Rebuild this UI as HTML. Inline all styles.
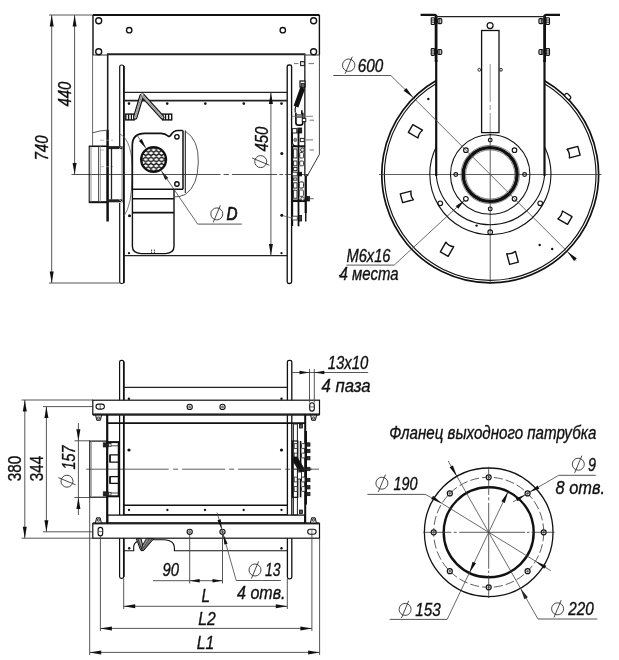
<!DOCTYPE html>
<html><head><meta charset="utf-8"><title>Drawing</title>
<style>
html,body{margin:0;padding:0;background:#fff;}
body{width:619px;height:660px;overflow:hidden;}
svg{display:block;will-change:transform;}
text{font-family:"Liberation Sans",sans-serif;fill:#111;stroke:#111;stroke-width:0.35px;}
</style></head><body>
<svg width="619" height="660" viewBox="0 0 619 660">
<rect width="619" height="660" fill="#fff"/>
<g id="viewA">
<line x1="49" y1="15" x2="93" y2="15" stroke="#444" stroke-width="0.9" />
<line x1="49" y1="283" x2="119.5" y2="283" stroke="#444" stroke-width="0.9" />
<line x1="51.7" y1="15" x2="51.7" y2="283" stroke="#444" stroke-width="0.9" />
<polygon points="51.7,15 53.7,26.5 49.7,26.5" fill="#111"/>
<polygon points="51.7,283 49.7,271.5 53.7,271.5" fill="#111"/>
<line x1="74.6" y1="15" x2="74.6" y2="174.5" stroke="#444" stroke-width="0.9" />
<polygon points="74.6,15 76.6,26.5 72.6,26.5" fill="#111"/>
<polygon points="74.6,174.5 72.6,163 76.6,163" fill="#111"/>
<text transform="translate(48.2,160.5) rotate(-90)" font-size="18" font-style="italic" font-weight="normal" text-anchor="start" textLength="25" lengthAdjust="spacingAndGlyphs">740</text>
<text transform="translate(70.5,106.6) rotate(-90)" font-size="18" font-style="italic" font-weight="normal" text-anchor="start" textLength="25" lengthAdjust="spacingAndGlyphs">440</text>
<line x1="93" y1="15" x2="319.5" y2="15" stroke="#111" stroke-width="2.2" />
<line x1="93" y1="15" x2="93" y2="55" stroke="#111" stroke-width="1.4" />
<line x1="319.4" y1="15" x2="319.4" y2="55" stroke="#111" stroke-width="1.4" />
<line x1="319.4" y1="55" x2="319.4" y2="154.4" stroke="#444" stroke-width="1" />
<line x1="319.4" y1="154.4" x2="307" y2="176.4" stroke="#333" stroke-width="1" />
<line x1="93" y1="55" x2="107.7" y2="55" stroke="#333" stroke-width="1" />
<line x1="304.8" y1="55" x2="319.4" y2="55" stroke="#333" stroke-width="1" />
<line x1="107" y1="54.3" x2="305.4" y2="54.3" stroke="#222" stroke-width="2" />
<circle cx="98.7" cy="20.7" r="3" stroke="#111" stroke-width="1.35" fill="none" />
<circle cx="98.7" cy="51.7" r="3" stroke="#111" stroke-width="1.35" fill="none" />
<circle cx="129.2" cy="30.2" r="2.7" stroke="#111" stroke-width="1.35" fill="none" />
<circle cx="313.6" cy="20.7" r="3" stroke="#111" stroke-width="1.35" fill="none" />
<circle cx="313.6" cy="51.7" r="3" stroke="#111" stroke-width="1.35" fill="none" />
<circle cx="282.8" cy="30.2" r="2.7" stroke="#111" stroke-width="1.35" fill="none" />
<line x1="107.7" y1="54" x2="107.7" y2="130" stroke="#222" stroke-width="1.6" />
<line x1="107.6" y1="130" x2="107.6" y2="221.5" stroke="#111" stroke-width="2.5" />
<line x1="304.8" y1="54" x2="304.8" y2="176" stroke="#444" stroke-width="1.6" />
<path d="M119.7,146 L119.7,66.5 Q119.7,65 121.7,65 Q123.8,65 123.8,66.5 L123.8,282 Q123.8,283.5 121.7,283.5 Q119.7,283.5 119.7,282 L119.7,203" stroke="#111" stroke-width="1.2" fill="none" />
<line x1="123.9" y1="66" x2="123.9" y2="283" stroke="#111" stroke-width="1.7" />
<rect x="287.2" y="65" width="4.4" height="218.5" rx="1.8" stroke="#111" stroke-width="1.35" fill="none"/>
<line x1="124" y1="92.4" x2="287.2" y2="92.4" stroke="#222" stroke-width="1.2" />
<line x1="124" y1="100.6" x2="287.2" y2="100.6" stroke="#222" stroke-width="1.6" />
<line x1="124" y1="255.6" x2="287.2" y2="255.6" stroke="#222" stroke-width="1.4" />
<circle cx="129" cy="103.6" r="1.3" fill="#111"/>
<circle cx="167.2" cy="103.6" r="1.3" fill="#111"/>
<circle cx="205.3" cy="103.6" r="1.3" fill="#111"/>
<circle cx="243.8" cy="103.6" r="1.3" fill="#111"/>
<circle cx="281.5" cy="103.6" r="1.3" fill="#111"/>
<circle cx="129.5" cy="215.8" r="1.5" fill="#111"/>
<circle cx="281.8" cy="153.6" r="1.5" fill="#111"/>
<circle cx="281.8" cy="215.3" r="1.5" fill="#111"/>
<circle cx="129" cy="253.2" r="1.1" fill="#111"/>
<circle cx="281.5" cy="253.2" r="1.1" fill="#111"/>
<line x1="71.5" y1="174.5" x2="220.5" y2="174.5" stroke="#333" stroke-width="0.85" />
<line x1="223.5" y1="174.5" x2="228.9" y2="174.5" stroke="#333" stroke-width="0.85" />
<line x1="231.9" y1="174.5" x2="277.1" y2="174.5" stroke="#333" stroke-width="0.85" />
<line x1="279.4" y1="174.5" x2="283.2" y2="174.5" stroke="#333" stroke-width="0.85" />
<line x1="285.2" y1="174.5" x2="308" y2="174.5" stroke="#333" stroke-width="0.85" />
<line x1="270.9" y1="92.4" x2="270.9" y2="255.6" stroke="#444" stroke-width="0.9" />
<polygon points="270.9,92.4 272.9,103.9 268.9,103.9" fill="#111"/>
<polygon points="270.9,255.6 268.9,244.1 272.9,244.1" fill="#111"/>
<text transform="translate(268,151.6) rotate(-90)" font-size="18" font-style="italic" font-weight="normal" text-anchor="start" textLength="25" lengthAdjust="spacingAndGlyphs">450</text>
<g transform="translate(260.7,161.6) rotate(-90)"><circle r="6" fill="none" stroke="#333" stroke-width="0.9"/><line x1="-3.6" y1="8.6" x2="3.6" y2="-8.6" stroke="#333" stroke-width="0.9"/></g>
<rect x="125.8" y="114.1" width="8.4" height="5.8" rx="0" stroke="#111" stroke-width="1.4" fill="#fff"/>
<rect x="162.6" y="114.1" width="9.1" height="5.8" rx="0" stroke="#111" stroke-width="1.4" fill="#fff"/>
<line x1="128.6" y1="114.1" x2="128.6" y2="119.9" stroke="#111" stroke-width="1.4" />
<line x1="131.4" y1="114.1" x2="131.4" y2="119.9" stroke="#111" stroke-width="1.2" />
<line x1="165.6" y1="114.1" x2="165.6" y2="119.9" stroke="#111" stroke-width="1.2" />
<line x1="168.6" y1="114.1" x2="168.6" y2="119.9" stroke="#111" stroke-width="1.4" />
<g stroke-linecap="round">
<line x1="141.6" y1="96" x2="135.2" y2="117.3" stroke="#111" stroke-width="4.6" />
<line x1="143" y1="96" x2="162.3" y2="117.3" stroke="#111" stroke-width="4.6" />
<line x1="141.6" y1="96" x2="135.2" y2="117.3" stroke="#bbb" stroke-width="2.4" />
<line x1="143" y1="96" x2="162.3" y2="117.3" stroke="#bbb" stroke-width="2.4" />
</g>
<line x1="141.6" y1="96" x2="135.2" y2="117.3" stroke="#333" stroke-width="0.6" stroke-dasharray="0.8 0.8"/>
<line x1="143" y1="96" x2="162.3" y2="117.3" stroke="#333" stroke-width="0.6" stroke-dasharray="0.8 0.8"/>
<circle cx="142.3" cy="94.8" r="1.2" stroke="#333" stroke-width="0.5" fill="#fff" />
<path d="M92.6,132.8 Q100,130.4 107.3,130.2" stroke="#444" stroke-width="0.9" fill="none" />
<rect x="89.2" y="146.2" width="18.1" height="56.1" rx="0" stroke="#111" stroke-width="1.1" fill="none"/>
<line x1="89.2" y1="202.2" x2="107.3" y2="202.2" stroke="#111" stroke-width="2" />
<line x1="89.2" y1="146.4" x2="107.3" y2="146.4" stroke="#111" stroke-width="1.3" />
<line x1="91" y1="146.2" x2="91" y2="202.3" stroke="#777" stroke-width="0.8" />
<line x1="98.6" y1="146.2" x2="98.6" y2="202.3" stroke="#333" stroke-width="0.9" />
<line x1="100.4" y1="146.2" x2="100.4" y2="202.3" stroke="#888" stroke-width="0.8" />
<line x1="92.6" y1="55" x2="92.6" y2="146" stroke="#555" stroke-width="0.9" />
<line x1="100" y1="140.2" x2="104" y2="140.2" stroke="#999" stroke-width="0.7" />
<line x1="106" y1="140.2" x2="109" y2="140.2" stroke="#999" stroke-width="0.7" />
<line x1="111" y1="140.2" x2="113" y2="140.2" stroke="#999" stroke-width="0.7" />
<line x1="100" y1="150" x2="104" y2="150" stroke="#999" stroke-width="0.7" />
<line x1="101" y1="166.7" x2="104" y2="166.7" stroke="#999" stroke-width="0.7" />
<line x1="106" y1="166.7" x2="109" y2="166.7" stroke="#999" stroke-width="0.7" />
<line x1="111" y1="166.7" x2="113" y2="166.7" stroke="#999" stroke-width="0.7" />
<line x1="107.3" y1="147.6" x2="122.6" y2="147.6" stroke="#222" stroke-width="3" />
<line x1="107.3" y1="200.8" x2="122.6" y2="200.8" stroke="#222" stroke-width="3" />
<line x1="111.5" y1="149" x2="111.5" y2="199.4" stroke="#222" stroke-width="1.3" />
<line x1="122.1" y1="149" x2="122.1" y2="199.4" stroke="#666" stroke-width="0.9" />
<path d="M119,149 L122.5,146" stroke="#ccc" stroke-width="0.8" fill="none" />
<path d="M119,199.4 L122.5,202.4" stroke="#ccc" stroke-width="0.8" fill="none" />
<path d="M119.5,133.8 Q133,140 132.3,175 Q132,205 124,216" stroke="#555" stroke-width="0.8" fill="none" />
<path d="M132.3,190 L132.3,145 Q132.5,133.4 145,133.4 L161,133.4 Q165.5,133.6 168,136 Q169.6,137.2 171,134.8 Q173.5,130.5 178,130.5 L182.8,130.5" stroke="#111" stroke-width="1.7" fill="none" />
<path d="M132.4,190 L132.4,246.5 Q132.4,253 141,253.6 L165.5,253.6 Q174,253 174,246.5 L174,189.5" stroke="#111" stroke-width="1.4" fill="none" />
<line x1="132.5" y1="189.2" x2="183" y2="189.2" stroke="#111" stroke-width="1.4" />
<line x1="132.5" y1="198.8" x2="174" y2="198.8" stroke="#111" stroke-width="1.4" />
<line x1="132.5" y1="212.6" x2="174" y2="212.6" stroke="#111" stroke-width="1.6" />
<line x1="183" y1="130.5" x2="183" y2="189.2" stroke="#111" stroke-width="1.5" />
<line x1="185.3" y1="130.6" x2="185.3" y2="193" stroke="#222" stroke-width="1.1" />
<path d="M185.2,131 Q199,140 198.3,162 Q198,186 185.2,194.5 Q180,197 174,197" stroke="#444" stroke-width="0.9" fill="none" />
<circle cx="176.9" cy="136.8" r="2.2" stroke="#111" stroke-width="1.4" fill="none" />
<circle cx="176.9" cy="184" r="2.2" stroke="#111" stroke-width="1.4" fill="none" />
<circle cx="151.6" cy="250.2" r="0.6" fill="#111"/>
<circle cx="154.4" cy="250.2" r="0.6" fill="#111"/>
<circle cx="151.6" cy="252.2" r="0.6" fill="#111"/>
<circle cx="154.4" cy="252.2" r="0.6" fill="#111"/>
<defs><pattern id="mesh" width="5.3" height="6.4" patternUnits="userSpaceOnUse" patternTransform="translate(140.4,146.7)"><rect width="5.3" height="6.4" fill="#111"/><path d="M-2.60,0.00 L0.00,-1.50 L2.60,0.00 L0.00,1.50 Z M2.70,0.00 L5.30,-1.50 L7.90,0.00 L5.30,1.50 Z M0.05,3.20 L2.65,1.70 L5.25,3.20 L2.65,4.70 Z M-2.60,6.40 L0.00,4.90 L2.60,6.40 L0.00,7.90 Z M2.70,6.40 L5.30,4.90 L7.90,6.40 L5.30,7.90 Z" fill="#fff"/></pattern></defs>
<circle cx="153.6" cy="159.5" r="12.4" stroke="#111" stroke-width="2.4" fill="url(#mesh)" />
<line x1="136.69" y1="134.72" x2="145.99" y2="148.35" stroke="#444" stroke-width="0.8" />
<polygon points="145.99,148.35 138.87,141.1 141.84,139.07" fill="#111"/>
<polygon points="161.21,170.65 168.33,177.9 165.36,179.93" fill="#111"/>
<line x1="161.21" y1="170.65" x2="197.7" y2="224.1" stroke="#444" stroke-width="0.8" />
<line x1="197.7" y1="224.1" x2="241.8" y2="224.1" stroke="#444" stroke-width="0.9" />
<g transform="translate(216.8,213.9) rotate(0)"><circle r="6" fill="none" stroke="#333" stroke-width="0.9"/><line x1="-3.6" y1="8.6" x2="3.6" y2="-8.6" stroke="#333" stroke-width="0.9"/></g>
<text x="226.5" y="219.7" font-size="18" font-style="italic" textLength="11" lengthAdjust="spacingAndGlyphs" style="stroke-width:0.7px">D</text>
<rect x="300.6" y="61.6" width="3.8" height="4" rx="0" stroke="#222" stroke-width="1.1" fill="#eee"/>
<line x1="294" y1="63.6" x2="298.5" y2="63.6" stroke="#555" stroke-width="0.8" />
<line x1="308.5" y1="63.6" x2="314" y2="63.6" stroke="#555" stroke-width="0.8" />
<line x1="334" y1="75.5" x2="340" y2="75.5" stroke="#444" stroke-width="0.8" />
<circle cx="339.6" cy="275.6" r="0.8" fill="#111"/>
<rect x="300" y="81" width="5" height="6" rx="0" stroke="#111" stroke-width="1.2" fill="#fff"/>
<rect x="301.3" y="83.6" width="3.1" height="4" rx="0" stroke="#111" stroke-width="0.8" fill="#666"/>
<line x1="302.7" y1="87.8" x2="296" y2="106.6" stroke="#111" stroke-width="5" />
<path d="M296,106 Q294.6,108.5 295.3,112.5" stroke="#111" stroke-width="1.2" fill="none" />
<path d="M295.9,112.8 L295.9,122.5 Q295.9,125.2 298.5,125.2 L300.2,125.2 Q302.8,125.2 302.8,122.5 L302.8,112.8" stroke="#111" stroke-width="1.7" fill="none" />
<line x1="301.8" y1="110.2" x2="301.8" y2="114" stroke="#111" stroke-width="1.6" />
<rect x="296.6" y="114.4" width="5.2" height="3.2" rx="0" stroke="#444" stroke-width="0.6" fill="#999"/>
<line x1="291.6" y1="116.3" x2="313" y2="116.3" stroke="#666" stroke-width="0.8" />
<line x1="309.6" y1="120.2" x2="314" y2="120.2" stroke="#666" stroke-width="0.9" />
<rect x="302.3" y="118.4" width="3.5" height="3.2" rx="0" stroke="#222" stroke-width="1" fill="#fff"/>
<rect x="292.4" y="128.6" width="4.4" height="4.4" rx="0" stroke="#222" stroke-width="1" fill="#fff"/>
<rect x="297.8" y="128" width="3.9" height="5" rx="0" stroke="#111" stroke-width="0.8" fill="#222"/>
<line x1="298.5" y1="131" x2="298.5" y2="226.3" stroke="#111" stroke-width="1.8" />
<path d="M292.4,133 L292.4,142.5 Q292.6,146 296.5,146.3" stroke="#111" stroke-width="1.2" fill="none" />
<circle cx="295.3" cy="139.9" r="1.6" stroke="#444" stroke-width="0.7" fill="#999" />
<rect x="300.3" y="138.4" width="3.9" height="3.2" rx="0" stroke="#222" stroke-width="1" fill="#fff"/>
<line x1="306" y1="139.9" x2="313" y2="139.9" stroke="#666" stroke-width="0.9" />
<line x1="292.2" y1="146.3" x2="305" y2="146.3" stroke="#111" stroke-width="2" />
<circle cx="302.4" cy="149.8" r="1.9" stroke="#222" stroke-width="1" fill="#ddd" />
<line x1="309.6" y1="150" x2="314" y2="150" stroke="#666" stroke-width="0.9" />
<line x1="292.4" y1="146.3" x2="292.4" y2="226" stroke="#111" stroke-width="1.5" />
<rect x="293.6" y="149" width="3.4" height="9" rx="0" stroke="#222" stroke-width="0.9" fill="#fff"/>
<rect x="293.6" y="161" width="3.4" height="4.8" rx="0" stroke="#222" stroke-width="0.9" fill="#fff"/>
<rect x="293.6" y="167.4" width="3.4" height="3.2" rx="0" stroke="#222" stroke-width="0.9" fill="#fff"/>
<rect x="293.6" y="178" width="3.4" height="2.2" rx="0" stroke="#222" stroke-width="0.9" fill="#fff"/>
<rect x="293.6" y="182.8" width="3.4" height="5.3" rx="0" stroke="#222" stroke-width="0.9" fill="#fff"/>
<rect x="293.6" y="190.2" width="3.4" height="8" rx="0" stroke="#222" stroke-width="0.9" fill="#fff"/>
<rect x="299.7" y="152.5" width="3.9" height="5.5" rx="1" stroke="#222" stroke-width="0.9" fill="#fff"/>
<rect x="299.7" y="161" width="3.9" height="4.8" rx="1" stroke="#222" stroke-width="0.9" fill="#fff"/>
<rect x="299.3" y="181.8" width="4.3" height="6.3" rx="1.5" stroke="#222" stroke-width="1" fill="#fff"/>
<rect x="299.3" y="190" width="4.1" height="6.4" rx="1" stroke="#333" stroke-width="0.9" fill="#fff"/>
<rect x="292.3" y="172.2" width="5" height="3.7" rx="0" stroke="#222" stroke-width="1" fill="#fff"/>
<rect x="298.9" y="172.2" width="2.7" height="3.7" rx="0" stroke="#111" stroke-width="0.8" fill="#111"/>
<line x1="292.3" y1="200.8" x2="305.2" y2="200.8" stroke="#111" stroke-width="2.5" />
<line x1="305.75" y1="175.6" x2="305.75" y2="213" stroke="#111" stroke-width="2.3" />
<line x1="305.75" y1="213" x2="305.75" y2="221.6" stroke="#111" stroke-width="1.4" />
<line x1="305.75" y1="175.3" x2="308.4" y2="175.1" stroke="#222" stroke-width="1" />
<circle cx="302.6" cy="198.7" r="1.7" stroke="#222" stroke-width="0.9" fill="#fff" />
<rect x="306.8" y="196.5" width="2.8" height="4.5" rx="0" stroke="#111" stroke-width="0.8" fill="#222"/>
<line x1="309.6" y1="198.7" x2="313.8" y2="198.7" stroke="#444" stroke-width="0.8" />
<line x1="283" y1="215.8" x2="292.3" y2="218" stroke="#555" stroke-width="0.7" />
<rect x="292.3" y="216.2" width="5" height="3.8" rx="0" stroke="#333" stroke-width="0.9" fill="#fff"/>
<rect x="298.9" y="215.5" width="2.7" height="5.5" rx="0" stroke="#111" stroke-width="0.8" fill="#444"/>
</g>
<g id="viewB">
<path d="M436.3,80.45 A108.4,108.4 0 1 0 544.5,80.68" stroke="#111" stroke-width="1.7" fill="none" />
<path d="M436.3,83.46 A105.8,105.8 0 1 0 544.5,83.7" stroke="#111" stroke-width="1.15" fill="none" />
<line x1="379" y1="174.5" x2="601.5" y2="174.5" stroke="#333" stroke-width="0.8" />
<line x1="490.2" y1="64" x2="490.2" y2="136" stroke="#666" stroke-width="0.7" stroke-dasharray="38 3 5 3"/>
<line x1="490.2" y1="134" x2="490.2" y2="284" stroke="#333" stroke-width="0.8" />
<line x1="436.1" y1="15.5" x2="436.1" y2="62" stroke="#111" stroke-width="2.8" />
<line x1="436.2" y1="60" x2="436.2" y2="176" stroke="#111" stroke-width="2.2" />
<line x1="544.6" y1="15.5" x2="544.6" y2="62" stroke="#111" stroke-width="2.8" />
<line x1="544.5" y1="60" x2="544.5" y2="176" stroke="#111" stroke-width="2.2" />
<path d="M420.6,14.9 L434.5,14.9 Q436.1,14.9 436.1,16.5" stroke="#111" stroke-width="2.3" fill="none" />
<path d="M560,14.9 L546.2,14.9 Q544.6,14.9 544.6,16.5" stroke="#111" stroke-width="2.3" fill="none" />
<line x1="436" y1="16.6" x2="545" y2="16.6" stroke="#222" stroke-width="1.1" />
<rect x="431.2" y="17.7" width="3.4" height="6.8" rx="0.8" stroke="#111" stroke-width="1.1" fill="#ddd"/>
<line x1="431.2" y1="20" x2="434.6" y2="20" stroke="#111" stroke-width="0.8" />
<line x1="431.2" y1="22.2" x2="434.6" y2="22.2" stroke="#111" stroke-width="0.8" />
<rect x="437.6" y="18.6" width="4.2" height="5" rx="1.2" stroke="#111" stroke-width="1.1" fill="#bbb"/>
<line x1="439.1" y1="18.6" x2="439.1" y2="23.6" stroke="#111" stroke-width="0.8" />
<rect x="431.2" y="48.6" width="3.4" height="6.8" rx="0.8" stroke="#111" stroke-width="1.1" fill="#ddd"/>
<line x1="431.2" y1="50.9" x2="434.6" y2="50.9" stroke="#111" stroke-width="0.8" />
<line x1="431.2" y1="53.1" x2="434.6" y2="53.1" stroke="#111" stroke-width="0.8" />
<rect x="437.6" y="49.5" width="4.2" height="5" rx="1.2" stroke="#111" stroke-width="1.1" fill="#bbb"/>
<line x1="439.1" y1="49.5" x2="439.1" y2="54.5" stroke="#111" stroke-width="0.8" />
<rect x="546.1" y="17.7" width="3.4" height="6.8" rx="0.8" stroke="#111" stroke-width="1.1" fill="#ddd"/>
<line x1="546.1" y1="20" x2="549.5" y2="20" stroke="#111" stroke-width="0.8" />
<line x1="546.1" y1="22.2" x2="549.5" y2="22.2" stroke="#111" stroke-width="0.8" />
<rect x="538.9" y="18.6" width="4.2" height="5" rx="1.2" stroke="#111" stroke-width="1.1" fill="#bbb"/>
<line x1="541.6" y1="18.6" x2="541.6" y2="23.6" stroke="#111" stroke-width="0.8" />
<rect x="546.1" y="48.6" width="3.4" height="6.8" rx="0.8" stroke="#111" stroke-width="1.1" fill="#ddd"/>
<line x1="546.1" y1="50.9" x2="549.5" y2="50.9" stroke="#111" stroke-width="0.8" />
<line x1="546.1" y1="53.1" x2="549.5" y2="53.1" stroke="#111" stroke-width="0.8" />
<rect x="538.9" y="49.5" width="4.2" height="5" rx="1.2" stroke="#111" stroke-width="1.1" fill="#bbb"/>
<line x1="541.6" y1="49.5" x2="541.6" y2="54.5" stroke="#111" stroke-width="0.8" />
<circle cx="490.1" cy="25.6" r="3" stroke="#111" stroke-width="1.2" fill="none" />
<rect x="481.6" y="30.5" width="17.4" height="102.1" rx="0" stroke="#111" stroke-width="1.3" fill="none"/>
<circle cx="479.3" cy="69.8" r="1.4" stroke="#111" stroke-width="0.9" fill="none" />
<circle cx="501" cy="69.8" r="1.4" stroke="#111" stroke-width="0.9" fill="none" />
<circle cx="490.2" cy="174.5" r="26.9" stroke="#111" stroke-width="3.4" fill="none" />
<circle cx="490.2" cy="174.5" r="24.6" stroke="#555" stroke-width="0.7" fill="none" />
<circle cx="490.2" cy="174.5" r="29.2" stroke="#555" stroke-width="0.7" fill="none" />
<circle cx="490.2" cy="174.5" r="39.7" stroke="#111" stroke-width="1.1" fill="none" />
<circle cx="524.6" cy="174.5" r="1.9" stroke="#111" stroke-width="1.1" fill="none" />
<circle cx="514.52" cy="198.82" r="2.3" stroke="#111" stroke-width="1.1" fill="none" />
<circle cx="490.2" cy="208.9" r="1.9" stroke="#111" stroke-width="1.1" fill="none" />
<circle cx="465.88" cy="198.82" r="2.3" stroke="#111" stroke-width="1.1" fill="none" />
<circle cx="455.8" cy="174.5" r="1.9" stroke="#111" stroke-width="1.1" fill="none" />
<circle cx="465.88" cy="150.18" r="2.3" stroke="#111" stroke-width="1.1" fill="none" />
<circle cx="490.2" cy="140.1" r="1.9" stroke="#111" stroke-width="1.1" fill="none" />
<circle cx="514.52" cy="150.18" r="2.3" stroke="#111" stroke-width="1.1" fill="none" />
<path d="M436.3,146.8 A60.6,60.6 0 1 0 544.5,146.8" stroke="#111" stroke-width="1.1" fill="none" />
<path d="M436.3,176 A54.4,54.4 0 0 0 544.5,176" stroke="#111" stroke-width="1.1" fill="none" />
<circle cx="540.17" cy="203.35" r="2.3" stroke="#111" stroke-width="1.1" fill="none" />
<circle cx="490.2" cy="232.2" r="2.3" stroke="#111" stroke-width="1.1" fill="none" />
<circle cx="440.23" cy="203.35" r="2.3" stroke="#111" stroke-width="1.1" fill="none" />
<circle cx="428.3" cy="99" r="1.2" fill="#111"/>
<circle cx="476.6" cy="225.6" r="1.2" fill="#111"/>
<circle cx="539.7" cy="245" r="1.2" fill="#111"/>
<circle cx="552.2" cy="249" r="1.2" fill="#111"/>
<g transform="translate(415.29,131.25) rotate(-60)"><path d="M-4.5,-5.4 L4.5,-5.4 L4.5,5.7 Q0,3.8 -4.5,5.7 Z" fill="#fff" stroke="#111" stroke-width="1.4" stroke-linejoin="round"/></g>
<g transform="translate(406.65,196.89) rotate(255)"><path d="M-4.5,-5.4 L4.5,-5.4 L4.5,5.7 Q0,3.8 -4.5,5.7 Z" fill="#fff" stroke="#111" stroke-width="1.4" stroke-linejoin="round"/></g>
<g transform="translate(446.95,249.41) rotate(210)"><path d="M-4.5,-5.4 L4.5,-5.4 L4.5,5.7 Q0,3.8 -4.5,5.7 Z" fill="#fff" stroke="#111" stroke-width="1.4" stroke-linejoin="round"/></g>
<g transform="translate(512.59,258.05) rotate(165)"><path d="M-4.5,-5.4 L4.5,-5.4 L4.5,5.7 Q0,3.8 -4.5,5.7 Z" fill="#fff" stroke="#111" stroke-width="1.4" stroke-linejoin="round"/></g>
<g transform="translate(565.11,217.75) rotate(120)"><path d="M-4.5,-5.4 L4.5,-5.4 L4.5,5.7 Q0,3.8 -4.5,5.7 Z" fill="#fff" stroke="#111" stroke-width="1.4" stroke-linejoin="round"/></g>
<g transform="translate(573.75,152.11) rotate(75)"><path d="M-4.5,-5.4 L4.5,-5.4 L4.5,5.7 Q0,3.8 -4.5,5.7 Z" fill="#fff" stroke="#111" stroke-width="1.4" stroke-linejoin="round"/></g>
<g transform="translate(567.71,96.45) rotate(44.8)"><rect x="-3.4" y="-1.9" width="6.8" height="3.8" rx="1.7" fill="#fff" stroke="#111" stroke-width="1.3"/></g>
<line x1="333.2" y1="75.5" x2="390.8" y2="75.5" stroke="#444" stroke-width="0.9" />
<line x1="390.8" y1="75.5" x2="413.13" y2="97.43" stroke="#444" stroke-width="0.8" />
<polygon points="413.13,97.43 403.65,90.64 406.34,87.95" fill="#111"/>
<line x1="413.13" y1="97.43" x2="567.27" y2="251.57" stroke="#444" stroke-width="0.8" />
<line x1="567.27" y1="251.57" x2="576.47" y2="260.77" stroke="#444" stroke-width="0.8" />
<polygon points="567.27,251.57 576.75,258.36 574.06,261.05" fill="#111"/>
<g transform="translate(348.7,65.2) rotate(0)"><circle r="6.2" fill="none" stroke="#333" stroke-width="0.9"/><line x1="-3.6" y1="8.6" x2="3.6" y2="-8.6" stroke="#333" stroke-width="0.9"/></g>
<text x="357.8" y="71.5" font-size="18" font-style="italic" font-weight="normal" text-anchor="start" textLength="25.5" lengthAdjust="spacingAndGlyphs">600</text>
<line x1="346.5" y1="265.1" x2="394.2" y2="265.1" stroke="#444" stroke-width="0.9" />
<line x1="394.2" y1="265.1" x2="464.38" y2="200.32" stroke="#444" stroke-width="0.8" />
<polygon points="464.28,200.42 458.33,208.67 455.83,206.08" fill="#111"/>
<text x="346.5" y="262" font-size="18" font-style="italic" font-weight="normal" text-anchor="start" textLength="44" lengthAdjust="spacingAndGlyphs">M6x16</text>
<text x="339.5" y="280.2" font-size="18" font-style="italic" font-weight="normal" text-anchor="start" textLength="59" lengthAdjust="spacingAndGlyphs">4 места</text>
</g>
<g id="viewC">
<line x1="21.5" y1="400" x2="93" y2="400" stroke="#444" stroke-width="0.9" />
<line x1="21.5" y1="538.2" x2="93" y2="538.2" stroke="#444" stroke-width="0.9" />
<line x1="24.8" y1="400" x2="24.8" y2="538.2" stroke="#444" stroke-width="0.9" />
<polygon points="24.8,400 26.8,411.5 22.8,411.5" fill="#111"/>
<polygon points="24.8,538.2 22.8,526.7 26.8,526.7" fill="#111"/>
<line x1="43" y1="406.6" x2="97" y2="406.6" stroke="#444" stroke-width="0.9" />
<line x1="43" y1="531.8" x2="97" y2="531.8" stroke="#444" stroke-width="0.9" />
<line x1="46.4" y1="406.6" x2="46.4" y2="531.8" stroke="#444" stroke-width="0.9" />
<polygon points="46.4,406.6 48.4,418.1 44.4,418.1" fill="#111"/>
<polygon points="46.4,531.8 44.4,520.3 48.4,520.3" fill="#111"/>
<text transform="translate(21.3,481.3) rotate(-90)" font-size="18" font-style="normal" font-weight="normal" text-anchor="start" textLength="25.5" lengthAdjust="spacingAndGlyphs">380</text>
<text transform="translate(42.6,481.3) rotate(-90)" font-size="18" font-style="normal" font-weight="normal" text-anchor="start" textLength="25.5" lengthAdjust="spacingAndGlyphs">344</text>
<line x1="74.5" y1="440.8" x2="90" y2="440.8" stroke="#444" stroke-width="0.9" />
<line x1="74.5" y1="497.5" x2="90" y2="497.5" stroke="#444" stroke-width="0.9" />
<line x1="78.4" y1="423" x2="78.4" y2="515" stroke="#444" stroke-width="0.9" />
<polygon points="78.4,440.8 76.4,429.3 80.4,429.3" fill="#111"/>
<polygon points="78.4,497.5 80.4,509 76.4,509" fill="#111"/>
<text transform="translate(74.9,469.6) rotate(-90)" font-size="18" font-style="italic" font-weight="normal" text-anchor="start" textLength="24" lengthAdjust="spacingAndGlyphs">157</text>
<g transform="translate(67,481.2) rotate(-90)"><circle r="6" fill="none" stroke="#333" stroke-width="0.9"/><line x1="-3.6" y1="8.6" x2="3.6" y2="-8.6" stroke="#333" stroke-width="0.9"/></g>
<rect x="119.6" y="360.3" width="4.1" height="218" rx="1.8" stroke="#111" stroke-width="1.2" fill="#fff"/>
<line x1="123.8" y1="361.5" x2="123.8" y2="577" stroke="#111" stroke-width="1.7" />
<rect x="287.4" y="360.3" width="4.4" height="218.5" rx="1.8" stroke="#111" stroke-width="1.3" fill="#fff"/>
<line x1="123.6" y1="387.4" x2="287.4" y2="387.4" stroke="#222" stroke-width="1.4" />
<rect x="92.8" y="400.2" width="226.7" height="14.2" rx="0" stroke="#111" stroke-width="1.2" fill="#fff"/>
<line x1="92.8" y1="414.6" x2="319.5" y2="414.6" stroke="#222" stroke-width="2.2" />
<line x1="107" y1="423.1" x2="305.4" y2="423.1" stroke="#111" stroke-width="1.8" />
<line x1="123.6" y1="505.3" x2="287.4" y2="505.3" stroke="#111" stroke-width="1.6" />
<line x1="123.6" y1="514.7" x2="287.4" y2="514.7" stroke="#222" stroke-width="1.2" />
<rect x="107.6" y="515.1" width="197.2" height="7.9" rx="0" stroke="#111" stroke-width="1.3" fill="#fff"/>
<rect x="92.8" y="523.6" width="226.7" height="14.6" rx="0" stroke="#111" stroke-width="1.2" fill="#fff"/>
<line x1="92.8" y1="523.3" x2="319.5" y2="523.3" stroke="#222" stroke-width="2.0" />
<circle cx="189.7" cy="406.9" r="2.6" stroke="#111" stroke-width="1.1" fill="#fff" />
<circle cx="189.7" cy="406.9" r="1.2" stroke="#555" stroke-width="0.5" fill="#888" />
<circle cx="222.5" cy="406.9" r="2.6" stroke="#111" stroke-width="1.1" fill="#fff" />
<circle cx="222.5" cy="406.9" r="1.2" stroke="#555" stroke-width="0.5" fill="#888" />
<circle cx="189.7" cy="531.8" r="2.6" stroke="#111" stroke-width="1.1" fill="#fff" />
<circle cx="189.7" cy="531.8" r="1.2" stroke="#555" stroke-width="0.5" fill="#888" />
<circle cx="222.5" cy="531.8" r="2.6" stroke="#111" stroke-width="1.1" fill="#fff" />
<circle cx="222.5" cy="531.8" r="1.2" stroke="#555" stroke-width="0.5" fill="#888" />
<rect x="96" y="404.1" width="8.4" height="5" rx="2.5" stroke="#111" stroke-width="1.1" fill="#fff"/>
<line x1="100.2" y1="404.1" x2="100.2" y2="409.1" stroke="#333" stroke-width="0.7" />
<rect x="309.7" y="402.7" width="4.6" height="8.4" rx="2.3" stroke="#111" stroke-width="1.1" fill="#fff"/>
<line x1="309.7" y1="406.9" x2="314.3" y2="406.9" stroke="#333" stroke-width="0.7" />
<rect x="98.1" y="527.4" width="4.6" height="8.4" rx="2.3" stroke="#111" stroke-width="1.1" fill="#fff"/>
<line x1="98.1" y1="531.6" x2="102.7" y2="531.6" stroke="#333" stroke-width="0.7" />
<rect x="307.7" y="529.3" width="8.4" height="5" rx="2.5" stroke="#111" stroke-width="1.1" fill="#fff"/>
<line x1="311.9" y1="529.3" x2="311.9" y2="534.3" stroke="#333" stroke-width="0.7" />
<path d="M95.6,415.1 L101.6,415.1 L100.4,420.3 L96.8,420.3 Z" stroke="#111" stroke-width="1" fill="#ddd" />
<circle cx="98.6" cy="418.1" r="1.1" stroke="#111" stroke-width="0.8" fill="#fff" />
<path d="M310.6,415.1 L316.6,415.1 L315.4,420.3 L311.8,420.3 Z" stroke="#111" stroke-width="1" fill="#ddd" />
<circle cx="313.6" cy="418.1" r="1.1" stroke="#111" stroke-width="0.8" fill="#fff" />
<path d="M95.4,523 L101.4,523 L100.2,517.8 L96.6,517.8 Z" stroke="#111" stroke-width="1" fill="#ddd" />
<circle cx="98.4" cy="520" r="1.1" stroke="#111" stroke-width="0.8" fill="#fff" />
<path d="M310.4,523 L316.4,523 L315.2,517.8 L311.6,517.8 Z" stroke="#111" stroke-width="1" fill="#ddd" />
<circle cx="313.4" cy="520" r="1.1" stroke="#111" stroke-width="0.8" fill="#fff" />
<line x1="107.2" y1="414.6" x2="107.2" y2="523.3" stroke="#111" stroke-width="2.2" />
<line x1="305.2" y1="414.6" x2="305.2" y2="523.3" stroke="#111" stroke-width="2.0" />
<circle cx="129" cy="450" r="1.6" fill="#111"/>
<circle cx="281.5" cy="450" r="1.6" fill="#111"/>
<circle cx="128.9" cy="398.8" r="1.2" fill="#111"/>
<circle cx="281.5" cy="398.8" r="1.2" fill="#111"/>
<circle cx="281.5" cy="548.3" r="1.2" fill="#111"/>
<circle cx="129.2" cy="548.2" r="1.2" fill="#111"/>
<circle cx="129" cy="510" r="1.15" fill="#111"/>
<circle cx="167.4" cy="510" r="1.15" fill="#111"/>
<circle cx="205" cy="510" r="1.15" fill="#111"/>
<circle cx="243.7" cy="510" r="1.15" fill="#111"/>
<circle cx="281.5" cy="510" r="1.15" fill="#111"/>
<line x1="86.2" y1="469.2" x2="168.6" y2="469.2" stroke="#333" stroke-width="0.8" />
<line x1="173.1" y1="469.2" x2="319" y2="469.2" stroke="#333" stroke-width="0.8" stroke-dasharray="5 4 43 4"/>
<rect x="89.8" y="441.1" width="17.4" height="56.1" rx="0" stroke="#111" stroke-width="1.2" fill="none"/>
<line x1="91.5" y1="441.1" x2="91.5" y2="497.2" stroke="#888" stroke-width="0.7" />
<line x1="107.2" y1="442.1" x2="119" y2="442.1" stroke="#111" stroke-width="2" />
<line x1="107.2" y1="496.3" x2="119" y2="496.3" stroke="#111" stroke-width="2" />
<line x1="118.6" y1="442" x2="118.6" y2="497" stroke="#111" stroke-width="1.7" />
<rect x="103.2" y="442.8" width="5.4" height="4.2" rx="0" stroke="#111" stroke-width="0.6" fill="#222"/>
<rect x="103.2" y="491.8" width="5.4" height="4.2" rx="0" stroke="#111" stroke-width="0.6" fill="#222"/>
<rect x="108.8" y="443.6" width="2.2" height="2.8" rx="0" stroke="#111" stroke-width="0.7" fill="#fff"/>
<rect x="108.8" y="492.4" width="2.2" height="2.8" rx="0" stroke="#111" stroke-width="0.7" fill="#fff"/>
<line x1="111" y1="445.8" x2="118.6" y2="445.8" stroke="#333" stroke-width="0.9" />
<line x1="111" y1="493" x2="118.6" y2="493" stroke="#333" stroke-width="0.9" />
<path d="M118.6,454.9 L110,454.9 L110,462.2 L118.6,462.2" stroke="#111" stroke-width="1.3" fill="none" />
<line x1="110" y1="454.9" x2="110" y2="462.2" stroke="#222" stroke-width="1.8" />
<path d="M118.6,476.7 L110,476.7 L110,483.4 L118.6,483.4" stroke="#111" stroke-width="1.3" fill="none" />
<line x1="110" y1="476.7" x2="110" y2="483.4" stroke="#222" stroke-width="1.8" />
<path d="M123.4,550.7 L133.7,550.7 L133.7,546.6 Q134,543 137.6,541.2" stroke="#111" stroke-width="1.1" fill="none" />
<path d="M136.3,538.6 L141,538.6 L143.4,548.3 L142.2,551 L140.6,550.2 Z" stroke="#111" stroke-width="1" fill="#999" />
<path d="M146.5,538.6 L153.8,538.6 L143.2,551 L141.8,549.2 L142.2,546 Z" stroke="#111" stroke-width="1" fill="#999" />
<line x1="138" y1="539" x2="141.8" y2="549.5" stroke="#111" stroke-width="0.7" />
<line x1="149.5" y1="539" x2="142.8" y2="548.5" stroke="#111" stroke-width="0.7" />
<line x1="151.8" y1="539" x2="143.5" y2="549.5" stroke="#111" stroke-width="0.6" />
<path d="M153,539.7 L164.5,539.7 Q174.4,540.6 174.4,547.2 L174.4,550.7 L287.4,550.7" stroke="#111" stroke-width="1.1" fill="none" />
<line x1="89.7" y1="497.5" x2="89.7" y2="655" stroke="#444" stroke-width="0.9" />
<line x1="319.6" y1="538.2" x2="319.6" y2="655" stroke="#444" stroke-width="0.9" />
<line x1="100.4" y1="535.8" x2="100.4" y2="631" stroke="#444" stroke-width="0.9" />
<line x1="311.9" y1="534.3" x2="311.9" y2="631" stroke="#444" stroke-width="0.9" />
<line x1="123.7" y1="578.3" x2="123.7" y2="609" stroke="#444" stroke-width="0.9" />
<line x1="287.3" y1="578.8" x2="287.3" y2="609" stroke="#444" stroke-width="0.9" />
<line x1="123.7" y1="606.3" x2="287.3" y2="606.3" stroke="#444" stroke-width="0.9" />
<polygon points="123.7,606.3 135.2,604.3 135.2,608.3" fill="#111"/>
<polygon points="287.3,606.3 275.8,608.3 275.8,604.3" fill="#111"/>
<line x1="100.4" y1="628.4" x2="311.9" y2="628.4" stroke="#444" stroke-width="0.9" />
<polygon points="100.4,628.4 111.9,626.4 111.9,630.4" fill="#111"/>
<polygon points="311.9,628.4 300.4,630.4 300.4,626.4" fill="#111"/>
<line x1="89.7" y1="652.4" x2="319.6" y2="652.4" stroke="#444" stroke-width="0.9" />
<polygon points="89.7,652.4 101.2,650.4 101.2,654.4" fill="#111"/>
<polygon points="319.6,652.4 308.1,654.4 308.1,650.4" fill="#111"/>
<text x="201.5" y="601.6" font-size="18" font-style="italic" font-weight="normal" text-anchor="start" textLength="8.5" lengthAdjust="spacingAndGlyphs">L</text>
<text x="198.2" y="624.6" font-size="18" font-style="italic" font-weight="normal" text-anchor="start" textLength="17.5" lengthAdjust="spacingAndGlyphs">L2</text>
<text x="196.8" y="648.7" font-size="18" font-style="italic" font-weight="normal" text-anchor="start" textLength="17.5" lengthAdjust="spacingAndGlyphs">L1</text>
<line x1="189.7" y1="534.4" x2="189.7" y2="583.5" stroke="#444" stroke-width="0.9" />
<line x1="222.5" y1="534.4" x2="222.5" y2="583.5" stroke="#444" stroke-width="0.9" />
<line x1="153" y1="580.7" x2="222.5" y2="580.7" stroke="#444" stroke-width="0.9" />
<polygon points="189.7,580.7 199.7,578.9 199.7,582.5" fill="#111"/>
<polygon points="222.5,580.7 212.5,582.5 212.5,578.9" fill="#111"/>
<text x="162.6" y="576.2" font-size="18" font-style="italic" font-weight="normal" text-anchor="start" textLength="16.5" lengthAdjust="spacingAndGlyphs">90</text>
<line x1="217.1" y1="512.6" x2="236.2" y2="580.5" stroke="#444" stroke-width="0.8" />
<line x1="236.2" y1="580.5" x2="280.8" y2="580.5" stroke="#444" stroke-width="0.9" />
<polygon points="221.8,529.3 217.46,520.13 220.73,519.21" fill="#111"/>
<polygon points="223.3,534.5 227.64,543.67 224.37,544.59" fill="#111"/>
<g transform="translate(255,570) rotate(0)"><circle r="6" fill="none" stroke="#333" stroke-width="0.9"/><line x1="-3.6" y1="8.6" x2="3.6" y2="-8.6" stroke="#333" stroke-width="0.9"/></g>
<text x="265" y="576.2" font-size="18" font-style="italic" font-weight="normal" text-anchor="start" textLength="15.5" lengthAdjust="spacingAndGlyphs">13</text>
<text x="237" y="599.4" font-size="18" font-style="italic" font-weight="normal" text-anchor="start" textLength="48.5" lengthAdjust="spacingAndGlyphs">4 отв.</text>
<line x1="309.5" y1="369" x2="309.5" y2="402.5" stroke="#444" stroke-width="0.9" />
<line x1="314.3" y1="369" x2="314.3" y2="402.5" stroke="#444" stroke-width="0.9" />
<line x1="291.8" y1="372.5" x2="368.2" y2="372.5" stroke="#444" stroke-width="0.9" />
<polygon points="309.5,372.5 299.5,374.3 299.5,370.7" fill="#111"/>
<polygon points="314.3,372.5 324.3,370.7 324.3,374.3" fill="#111"/>
<text x="327.8" y="368.6" font-size="18" font-style="italic" font-weight="normal" text-anchor="start" textLength="40.5" lengthAdjust="spacingAndGlyphs">13x10</text>
<text x="321.6" y="391.9" font-size="18" font-style="italic" font-weight="normal" text-anchor="start" textLength="49" lengthAdjust="spacingAndGlyphs">4 паза</text>
<rect x="293.4" y="424" width="4" height="91" rx="0" stroke="#222" stroke-width="1" fill="none"/>
<rect x="292.4" y="441" width="5.4" height="56.3" rx="0" stroke="#111" stroke-width="1.2" fill="none"/>
<line x1="300.6" y1="441" x2="300.6" y2="497.3" stroke="#111" stroke-width="1.6" />
<line x1="305.9" y1="431" x2="305.9" y2="504.5" stroke="#111" stroke-width="2.2" />
<rect x="299.4" y="424.5" width="3" height="3.5" rx="0" stroke="#111" stroke-width="0.8" fill="#555"/>
<rect x="299.4" y="510" width="3" height="3.5" rx="0" stroke="#111" stroke-width="0.8" fill="#555"/>
<rect x="306.8" y="442.8" width="3.2" height="3.4" rx="0" stroke="#111" stroke-width="0.7" fill="#333"/>
<rect x="306.8" y="449.3" width="3.2" height="3.4" rx="0" stroke="#111" stroke-width="0.7" fill="#333"/>
<rect x="306.8" y="456.5" width="3.2" height="3.4" rx="0" stroke="#111" stroke-width="0.7" fill="#333"/>
<rect x="306.8" y="467.3" width="3.2" height="3.4" rx="0" stroke="#111" stroke-width="0.7" fill="#333"/>
<rect x="306.8" y="478.3" width="3.2" height="3.4" rx="0" stroke="#111" stroke-width="0.7" fill="#333"/>
<rect x="306.8" y="485.6" width="3.2" height="3.4" rx="0" stroke="#111" stroke-width="0.7" fill="#333"/>
<rect x="306.8" y="492.3" width="3.2" height="3.4" rx="0" stroke="#111" stroke-width="0.7" fill="#333"/>
<rect x="301.5" y="443.6" width="3.5" height="4.8" rx="0.8" stroke="#222" stroke-width="0.9" fill="#fff"/>
<rect x="294.2" y="443.6" width="3" height="4.8" rx="0" stroke="#222" stroke-width="0.8" fill="#fff"/>
<rect x="301.5" y="453.1" width="3.5" height="4.8" rx="0.8" stroke="#222" stroke-width="0.9" fill="#fff"/>
<rect x="294.2" y="453.1" width="3" height="4.8" rx="0" stroke="#222" stroke-width="0.8" fill="#fff"/>
<rect x="301.5" y="477.1" width="3.5" height="4.8" rx="0.8" stroke="#222" stroke-width="0.9" fill="#fff"/>
<rect x="294.2" y="477.1" width="3" height="4.8" rx="0" stroke="#222" stroke-width="0.8" fill="#fff"/>
<rect x="301.5" y="486.6" width="3.5" height="4.8" rx="0.8" stroke="#222" stroke-width="0.9" fill="#fff"/>
<rect x="294.2" y="486.6" width="3" height="4.8" rx="0" stroke="#222" stroke-width="0.8" fill="#fff"/>
<path d="M293.6,457 L297,457 L304,468.5 L304,471.5 L299.5,471.5 L293.6,462 Z" stroke="#111" stroke-width="0.8" fill="#111" />
<rect x="297.5" y="472" width="4" height="7" rx="0" stroke="#111" stroke-width="0.8" fill="#fff"/>
<line x1="292" y1="469.2" x2="312" y2="469.2" stroke="#333" stroke-width="0.8" />
</g>
<g id="viewD">
<text x="389.3" y="438.9" font-size="18" font-style="italic" font-weight="normal" text-anchor="start" textLength="207" lengthAdjust="spacingAndGlyphs">Фланец выходного патрубка</text>
<circle cx="488.7" cy="532.3" r="64.3" stroke="#111" stroke-width="1.3" fill="none" />
<circle cx="488.7" cy="532.3" r="45" stroke="#111" stroke-width="2.4" fill="none" />
<circle cx="488.7" cy="532.3" r="55" stroke="#333" stroke-width="0.8" fill="none" stroke-dasharray="9 3"/>
<circle cx="543.7" cy="532.3" r="2.5" stroke="#111" stroke-width="1.2" fill="#fff" />
<circle cx="543.7" cy="532.3" r="0.9" stroke="#333" stroke-width="0.6" fill="#888" />
<circle cx="527.59" cy="571.19" r="2.5" stroke="#111" stroke-width="1.2" fill="#fff" />
<circle cx="527.59" cy="571.19" r="0.9" stroke="#333" stroke-width="0.6" fill="#888" />
<circle cx="488.7" cy="587.3" r="2.5" stroke="#111" stroke-width="1.2" fill="#fff" />
<circle cx="488.7" cy="587.3" r="0.9" stroke="#333" stroke-width="0.6" fill="#888" />
<circle cx="449.81" cy="571.19" r="2.5" stroke="#111" stroke-width="1.2" fill="#fff" />
<circle cx="449.81" cy="571.19" r="0.9" stroke="#333" stroke-width="0.6" fill="#888" />
<circle cx="433.7" cy="532.3" r="2.5" stroke="#111" stroke-width="1.2" fill="#fff" />
<circle cx="433.7" cy="532.3" r="0.9" stroke="#333" stroke-width="0.6" fill="#888" />
<circle cx="449.81" cy="493.41" r="2.5" stroke="#111" stroke-width="1.2" fill="#fff" />
<circle cx="449.81" cy="493.41" r="0.9" stroke="#333" stroke-width="0.6" fill="#888" />
<circle cx="488.7" cy="477.3" r="2.5" stroke="#111" stroke-width="1.2" fill="#fff" />
<circle cx="488.7" cy="477.3" r="0.9" stroke="#333" stroke-width="0.6" fill="#888" />
<circle cx="527.59" cy="493.41" r="2.5" stroke="#111" stroke-width="1.2" fill="#fff" />
<circle cx="527.59" cy="493.41" r="0.9" stroke="#333" stroke-width="0.6" fill="#888" />
<line x1="423.2" y1="532.3" x2="451.3" y2="532.3" stroke="#333" stroke-width="0.8" />
<line x1="488.7" y1="466.8" x2="488.7" y2="494.9" stroke="#333" stroke-width="0.8" />
<line x1="453.7" y1="532.3" x2="456.7" y2="532.3" stroke="#333" stroke-width="0.8" />
<line x1="488.7" y1="497.3" x2="488.7" y2="500.3" stroke="#333" stroke-width="0.8" />
<line x1="459.3" y1="532.3" x2="525.2" y2="532.3" stroke="#333" stroke-width="0.8" />
<line x1="488.7" y1="502.9" x2="488.7" y2="568.8" stroke="#333" stroke-width="0.8" />
<line x1="527" y1="532.3" x2="529.5" y2="532.3" stroke="#333" stroke-width="0.8" />
<line x1="488.7" y1="570.6" x2="488.7" y2="573.1" stroke="#333" stroke-width="0.8" />
<line x1="531.5" y1="532.3" x2="554.5" y2="532.3" stroke="#333" stroke-width="0.8" />
<line x1="488.7" y1="575.1" x2="488.7" y2="598.1" stroke="#333" stroke-width="0.8" />
<line x1="448.2" y1="461" x2="520.46" y2="588.21" stroke="#444" stroke-width="0.8" />
<polygon points="456.94,476.39 449.61,467.33 452.91,465.45" fill="#111"/>
<polygon points="520.46,588.21 527.79,597.27 524.49,599.15" fill="#111"/>
<line x1="520.46" y1="588.21" x2="537.95" y2="619" stroke="#444" stroke-width="0.8" />
<line x1="537.95" y1="619" x2="597.4" y2="619" stroke="#444" stroke-width="0.9" />
<g transform="translate(557.6,608.8) rotate(0)"><circle r="6" fill="none" stroke="#333" stroke-width="0.9"/><line x1="-3.6" y1="8.6" x2="3.6" y2="-8.6" stroke="#333" stroke-width="0.9"/></g>
<text x="568.2" y="614.8" font-size="18" font-style="italic" font-weight="normal" text-anchor="start" textLength="25.5" lengthAdjust="spacingAndGlyphs">220</text>
<line x1="367.4" y1="494.4" x2="425.3" y2="494.4" stroke="#444" stroke-width="0.9" />
<line x1="425.3" y1="494.4" x2="441.91" y2="503.4" stroke="#444" stroke-width="0.8" />
<line x1="441.91" y1="503.4" x2="550.81" y2="570.66" stroke="#444" stroke-width="0.8" />
<polygon points="441.91,503.4 431.12,498.97 433.12,495.74" fill="#111"/>
<polygon points="535.49,561.2 546.28,565.63 544.28,568.86" fill="#111"/>
<g transform="translate(381.9,483.2) rotate(0)"><circle r="6" fill="none" stroke="#333" stroke-width="0.9"/><line x1="-3.6" y1="8.6" x2="3.6" y2="-8.6" stroke="#333" stroke-width="0.9"/></g>
<text x="393.6" y="489.9" font-size="18" font-style="italic" font-weight="normal" text-anchor="start" textLength="24" lengthAdjust="spacingAndGlyphs">190</text>
<line x1="508.07" y1="491.68" x2="469.33" y2="572.92" stroke="#444" stroke-width="0.8" />
<polygon points="508.07,491.68 504.84,502.88 501.41,501.25" fill="#111"/>
<polygon points="469.33,572.92 472.56,561.72 475.99,563.35" fill="#111"/>
<line x1="469.33" y1="572.92" x2="447.16" y2="619.4" stroke="#444" stroke-width="0.8" />
<line x1="389.7" y1="619.4" x2="447.16" y2="619.4" stroke="#444" stroke-width="0.9" />
<g transform="translate(405.1,609.4) rotate(0)"><circle r="6" fill="none" stroke="#333" stroke-width="0.9"/><line x1="-3.6" y1="8.6" x2="3.6" y2="-8.6" stroke="#333" stroke-width="0.9"/></g>
<text x="415.3" y="615.6" font-size="18" font-style="italic" font-weight="normal" text-anchor="start" textLength="25.5" lengthAdjust="spacingAndGlyphs">153</text>
<line x1="558.7" y1="475.3" x2="595.8" y2="475.3" stroke="#444" stroke-width="0.9" />
<line x1="558.7" y1="475.3" x2="512.9" y2="501.96" stroke="#444" stroke-width="0.8" />
<polygon points="529.84,492.1 537.57,485.51 539.39,488.63" fill="#111"/>
<polygon points="525.34,494.72 517.61,501.3 515.8,498.19" fill="#111"/>
<g transform="translate(578.3,464.2) rotate(0)"><circle r="6" fill="none" stroke="#333" stroke-width="0.9"/><line x1="-3.6" y1="8.6" x2="3.6" y2="-8.6" stroke="#333" stroke-width="0.9"/></g>
<text x="588" y="471.4" font-size="18" font-style="italic" font-weight="normal" text-anchor="start" textLength="8" lengthAdjust="spacingAndGlyphs">9</text>
<text x="555.6" y="494" font-size="18" font-style="italic" font-weight="normal" text-anchor="start" textLength="49.5" lengthAdjust="spacingAndGlyphs">8 отв.</text>
</g>
</svg>
</body></html>
